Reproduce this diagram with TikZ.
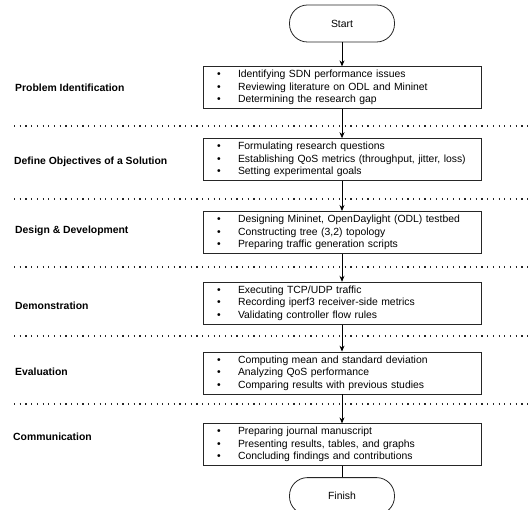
\documentclass[tikz,border=0pt]{standalone}
\usepackage{fontspec}
\setmainfont{Liberation Sans}
\usetikzlibrary{arrows.meta,positioning}

\newcommand{\itm}[1]{\makebox[21pt][l]{\textbullet}#1}

\begin{document}
\begin{tikzpicture}[x=1pt, y=-1pt, >={Stealth[length=6pt,width=5pt]}, font=\fontsize{10.4}{12.5}\selectfont]
  % Styles
  \tikzstyle{term} = [draw=black!85, rounded corners=18pt, minimum width=105pt, minimum height=37pt, line width=0.8pt]
  \tikzstyle{stepbox} = [draw=black!85, rectangle, text width=250pt, inner xsep=14pt, inner ysep=3pt, minimum height=42pt, align=left, line width=0.8pt]
  \tikzstyle{phase} = [anchor=west, inner sep=0pt, font=\fontsize{10.4}{12.5}\selectfont\bfseries]
  \tikzstyle{sepline} = [black!85, line width=1.2pt, dash pattern=on 1.2pt off 4.5pt]

  \useasboundingbox (0,0) rectangle (530,510);

  % Flow
  \node [term] (start) at (342,23.5) {Start};
  \node [stepbox, below=24pt of start] (identify) {
    \itm{Identifying SDN performance issues}\\
    \itm{Reviewing literature on ODL and Mininet}\\
    \itm{Determining the research gap}};
  \node [stepbox, below=29pt of identify] (objectives) {
    \itm{Formulating research questions}\\
    \itm{Establishing QoS metrics (throughput, jitter, loss)}\\
    \itm{Setting experimental goals}};
  \node [stepbox, below=30pt of objectives] (design) {
    \itm{Designing Mininet, OpenDaylight (ODL) testbed}\\
    \itm{Constructing tree (3,2) topology}\\
    \itm{Preparing traffic generation scripts}};
  \node [stepbox, below=28pt of design] (demo) {
    \itm{Executing TCP/UDP traffic}\\
    \itm{Recording iperf3 receiver-side metrics}\\
    \itm{Validating controller flow rules}};
  \node [stepbox, below=27pt of demo] (evaluate) {
    \itm{Computing mean and standard deviation}\\
    \itm{Analyzing QoS performance}\\
    \itm{Comparing results with previous studies}};
  \node [stepbox, below=29pt of evaluate] (communicate) {
    \itm{Preparing journal manuscript}\\
    \itm{Presenting results, tables, and graphs}\\
    \itm{Concluding findings and contributions}};
  \node [term, below=11pt of communicate] (finish) {Finish};

  % Phase labels
  \node [phase] (lblIdentify) at (15,88) {Problem Identification};
  \node [phase] (lblObjectives) at (14,162) {Define Objectives of a Solution};
  \node [phase] (lblDesign) at (15,231) {Design \& Development};
  \node [phase] (lblDemo) at (15,306) {Demonstration};
  \node [phase] (lblEvaluate) at (15,372) {Evaluation};
  \node [phase] (lblCommunicate) at (13,437) {Communication};

  % Separators
  \draw [sepline] (14,126) -- (530,126);
  \draw [sepline] (14,199) -- (530,199);
  \draw [sepline] (14,267) -- (530,267);
  \draw [sepline] (14,336) -- (530,336);
  \draw [sepline] (14,404) -- (530,404);

  % Arrows
  \draw [->, line width=0.8pt] (start) -- (identify);
  \draw [->, line width=0.8pt] (identify) -- (objectives);
  \draw [->, line width=0.8pt] (objectives) -- (design);
  \draw [->, line width=0.8pt] (design) -- (demo);
  \draw [->, line width=0.8pt] (demo) -- (evaluate);
  \draw [->, line width=0.8pt] (evaluate) -- (communicate);
  \draw [line width=0.8pt] (communicate) -- (finish);

\end{tikzpicture}
\end{document}
